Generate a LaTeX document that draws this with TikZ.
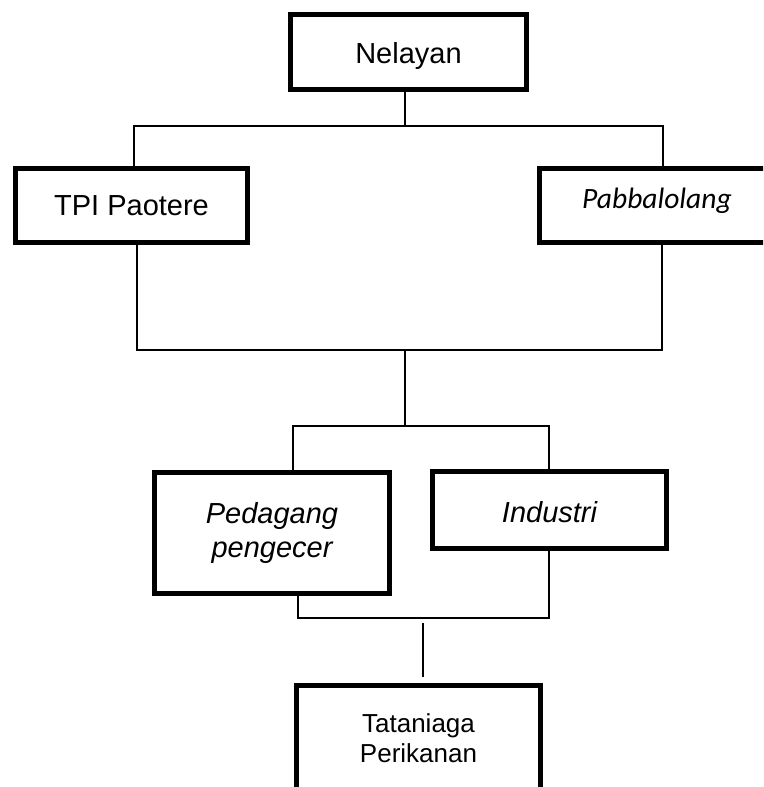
\documentclass[tikz,border=0pt]{standalone}
\usepackage{fontspec}
\setmainfont{Liberation Sans}
\newfontfamily\calibri{Carlito}
\newcommand{\shiftv}[2]{\raisebox{#1}[\height][\depth]{#2}}
\begin{document}
\begin{tikzpicture}[x=1pt,y=-1pt,
  box/.style={draw=black,line width=5pt,inner sep=0pt,fill=white,
    font=\fontsize{29}{34}\selectfont,align=center},
  conn/.style={draw=black,line width=1.8pt}]
\path[use as bounding box] (0,0) rectangle (763,787);
\clip (0,0) rectangle (763,787);
% boxes
\node[box,minimum width=236pt,minimum height=75pt] (nel) at (408.5,52) {\shiftv{-4pt}{Nelayan}};
\node[box,minimum width=232pt,minimum height=74pt] (tpi) at (131.5,205.5) {TPI Paotere};
\node[box,minimum width=235pt,minimum height=74pt] (pab) at (657,205.5) {\shiftv{5pt}{\calibri\itshape\fontsize{29.5}{34}\selectfont Pabbalolang}};
\node[box,minimum width=235pt,minimum height=121pt] (ped) at (272,533) {\itshape Pedagang\\\itshape pengecer};
\node[box,minimum width=234pt,minimum height=77pt] (ind) at (549.5,510) {\shiftv{-2pt}{\itshape Industri}};
\node[box,minimum width=244pt,minimum height=105pt,font=\fontsize{26}{30}\selectfont] (tat) at (418.5,738) {Tataniaga\\Perikanan};
% junction coordinates
\coordinate (a1) at (405,126);
\coordinate (a2) at (134,126);
\coordinate (a3) at (663,126);
\coordinate (b1) at (137,350);
\coordinate (b2) at (662,350);
\coordinate (b3) at (405,350);
\coordinate (c1) at (405,426);
\coordinate (c2) at (293,426);
\coordinate (c3) at (549,426);
\coordinate (d1) at (298,618);
\coordinate (d2) at (549,618);
\coordinate (e1) at (423,623);
\coordinate (e2) at (423,677);
% connectors
\draw[conn] (nel.south -| a1) -- (a1);
\draw[conn] (tpi.north -| a2) -- (a2) -- (a3) -- (pab.north -| a3);
\draw[conn] (tpi.south -| b1) -- (b1) -- (b2) -- (pab.south -| b2);
\draw[conn] (b3) -- (c1);
\draw[conn] (ped.north -| c2) -- (c2) -- (c3) -- (ind.north -| c3);
\draw[conn] (ped.south -| d1) -- (d1) -- (d2) -- (ind.south -| d2);
\draw[conn] (e1) -- (e2);
\end{tikzpicture}
\end{document}
